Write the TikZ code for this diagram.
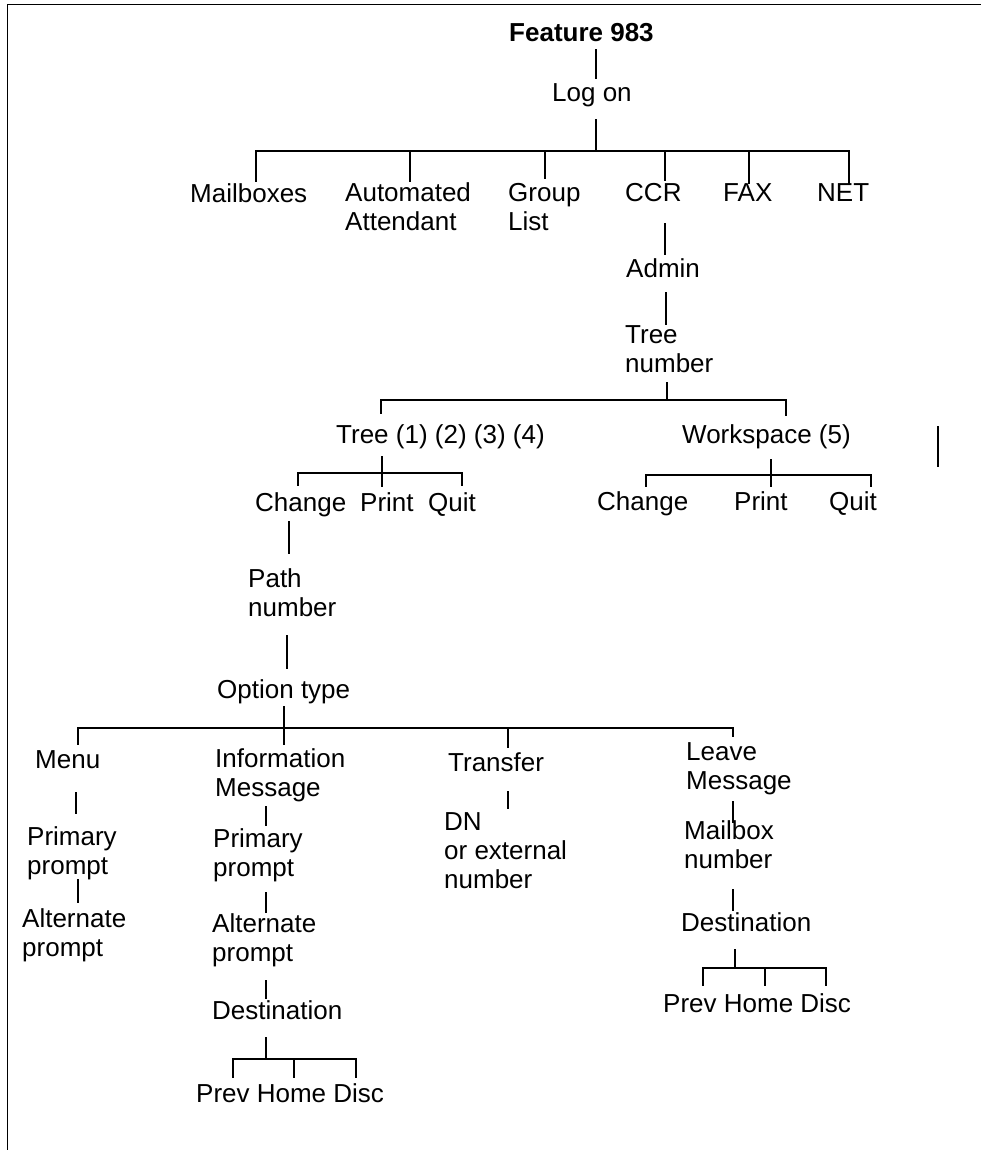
\documentclass[tikz,border=0pt]{standalone}
\usepackage{fontspec}
\setmainfont{Liberation Sans}
\begin{document}
\begin{tikzpicture}[x=1pt,y=-1pt,
  lbl/.style={anchor=base west, inner sep=0pt, align=left, font=\fontsize{26}{29}\selectfont},
  ln/.style={line width=1.1pt, line cap=rect}]
\useasboundingbox (0,0) rectangle (981,1150);
% frame
\coordinate (fbl) at (7.5,1150);
\coordinate (ftl) at (7.5,4.5);
\coordinate (ftr) at (981,4.5);
\draw[ln] (fbl) -- (ftl) -- (ftr);

% labels (base anchor of a multi-line label = baseline of its last line)
\node[lbl,font=\bfseries\fontsize{26}{29}\selectfont] (feat) at (509,42) {Feature 983};
\node[lbl] (logon) at (552,102) {Log on};
\node[lbl] (mail) at (190,203) {Mailboxes};
\node[lbl] (auto) at (345,231) {Automated\\Attendant};
\node[lbl] (group) at (508,231) {Group\\List};
\node[lbl] (ccr) at (625,202) {CCR};
\node[lbl] (fax) at (723,202) {FAX};
\node[lbl] (net) at (817,202) {NET};
\node[lbl] (admin) at (626,277) {Admin};
\node[lbl] (treenum) at (625,372) {Tree\\number};
\node[lbl] (tree) at (336,443) {Tree (1) (2) (3) (4)};
\node[lbl] (ws) at (682,443) {Workspace (5)};
\node[lbl] (tchg) at (255,511) {Change};
\node[lbl] (tprt) at (360,511) {Print};
\node[lbl] (tquit) at (428,511) {Quit};
\node[lbl] (wchg) at (597,510) {Change};
\node[lbl] (wprt) at (734,510) {Print};
\node[lbl] (wquit) at (829,510) {Quit};
\node[lbl] (path) at (248,616) {Path\\number};
\node[lbl] (opt) at (217,698) {Option type};
\node[lbl] (menu) at (35,768) {Menu};
\node[lbl] (info) at (215,796) {Information\\Message};
\node[lbl] (xfer) at (448,771) {Transfer};
\node[lbl] (leave) at (686,789) {Leave\\Message};
\node[lbl] (mprim) at (27,874) {Primary\\prompt};
\node[lbl] (malt) at (22,956) {Alternate\\prompt};
\node[lbl] (iprim) at (213,876) {Primary\\prompt};
\node[lbl] (ialt) at (212,961) {Alternate\\prompt};
\node[lbl] (idest) at (212,1019) {Destination};
\node[lbl] (iphd) at (196,1102) {Prev Home Disc};
\node[lbl] (dn) at (444,888) {DN\\or external\\number};
\node[lbl] (mbox) at (684,868) {Mailbox\\number};
\node[lbl] (ldest) at (681,931) {Destination};
\node[lbl] (lphd) at (663,1012) {Prev Home Disc};

% connector points
\coordinate (a1) at (596,50);  \coordinate (a2) at (596,78);
\coordinate (b1) at (596,120); \coordinate (b2) at (596,151);
\coordinate (bm0) at (256,151); \coordinate (bm1) at (256,181);
\coordinate (ba0) at (410,151); \coordinate (ba1) at (410,181);
\coordinate (bg0) at (545,151); \coordinate (bg1) at (545,178);
\coordinate (bc0) at (665,151); \coordinate (bc1) at (665,180);
\coordinate (bf0) at (749,151); \coordinate (bf1) at (749,183);
\coordinate (bn0) at (849,151); \coordinate (bn1) at (849,183);
\coordinate (c1) at (665,224); \coordinate (c2) at (665,254);
\coordinate (d1) at (666,293); \coordinate (d2) at (666,324);
\coordinate (e1) at (667,383); \coordinate (e2) at (667,400);
\coordinate (et0) at (381,400); \coordinate (et1) at (381,413);
\coordinate (ew0) at (786,400); \coordinate (ew1) at (786,415);
\coordinate (iso1) at (938,427); \coordinate (iso2) at (938,466);
\coordinate (f1) at (382,457); \coordinate (f2) at (382,486);
\coordinate (fc0) at (298,473); \coordinate (fc1) at (298,485);
\coordinate (fq0) at (462,473); \coordinate (fq1) at (462,485);
\coordinate (g1) at (771,460); \coordinate (g2) at (771,486);
\coordinate (gc0) at (646,475); \coordinate (gc1) at (646,486);
\coordinate (gq0) at (871,475); \coordinate (gq1) at (871,486);
\coordinate (h1) at (289,522); \coordinate (h2) at (289,553);
\coordinate (i1) at (287,636); \coordinate (i2) at (287,668);
\coordinate (j1) at (284,707); \coordinate (j2) at (284,744);
\coordinate (jm0) at (78,728);  \coordinate (jm1) at (78,744);
\coordinate (jt0) at (508,728); \coordinate (jt1) at (508,747);
\coordinate (jl0) at (733,728); \coordinate (jl1) at (733,736);
\coordinate (k1) at (76,793); \coordinate (k2) at (76,813);
\coordinate (l1) at (78,880); \coordinate (l2) at (78,902);
\coordinate (m1) at (266,807); \coordinate (m2) at (266,825);
\coordinate (n1) at (266,893); \coordinate (n2) at (266,912);
\coordinate (o1) at (266,981); \coordinate (o2) at (266,998);
\coordinate (p1) at (266,1038); \coordinate (p2) at (266,1059);
\coordinate (pp0) at (233,1059); \coordinate (pp1) at (233,1077);
\coordinate (ph0) at (294,1059); \coordinate (ph1) at (294,1077);
\coordinate (pd0) at (356,1059); \coordinate (pd1) at (356,1077);
\coordinate (q1) at (508,792); \coordinate (q2) at (508,808);
\coordinate (r1) at (733,802); \coordinate (r2) at (733,822);
\coordinate (s1) at (733,890); \coordinate (s2) at (733,910);
\coordinate (t1) at (735,950); \coordinate (t2) at (735,968);
\coordinate (tp0) at (703,968); \coordinate (tp1) at (703,985);
\coordinate (th0) at (765,968); \coordinate (th1) at (765,985);
\coordinate (td0) at (826,968); \coordinate (td1) at (826,985);

% connectors
\draw[ln] (a1) -- (a2);
\draw[ln] (b1) -- (b2);
\draw[ln] (bm1) -- (bm0) -- (bn0) -- (bn1);
\draw[ln] (ba0) -- (ba1);
\draw[ln] (bg0) -- (bg1);
\draw[ln] (bc0) -- (bc1);
\draw[ln] (bf0) -- (bf1);
\draw[ln] (c1) -- (c2);
\draw[ln] (d1) -- (d2);
\draw[ln] (e1) -- (e2);
\draw[ln] (et1) -- (et0) -- (ew0) -- (ew1);
\draw[ln] (iso1) -- (iso2);
\draw[ln] (f1) -- (f2);
\draw[ln] (fc1) -- (fc0) -- (fq0) -- (fq1);
\draw[ln] (g1) -- (g2);
\draw[ln] (gc1) -- (gc0) -- (gq0) -- (gq1);
\draw[ln] (h1) -- (h2);
\draw[ln] (i1) -- (i2);
\draw[ln] (j1) -- (j2);
\draw[ln] (jm1) -- (jm0) -- (jl0) -- (jl1);
\draw[ln] (jt0) -- (jt1);
\draw[ln] (k1) -- (k2);
\draw[ln] (l1) -- (l2);
\draw[ln] (m1) -- (m2);
\draw[ln] (n1) -- (n2);
\draw[ln] (o1) -- (o2);
\draw[ln] (p1) -- (p2);
\draw[ln] (pp1) -- (pp0) -- (pd0) -- (pd1);
\draw[ln] (ph0) -- (ph1);
\draw[ln] (q1) -- (q2);
\draw[ln] (r1) -- (r2);
\draw[ln] (s1) -- (s2);
\draw[ln] (t1) -- (t2);
\draw[ln] (tp1) -- (tp0) -- (td0) -- (td1);
\draw[ln] (th0) -- (th1);
\end{tikzpicture}
\end{document}
